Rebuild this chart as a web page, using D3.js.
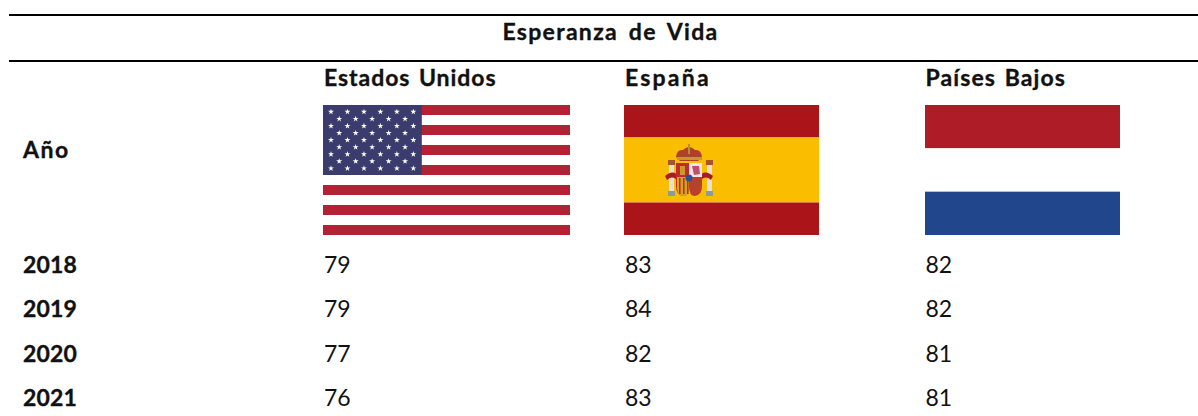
<!DOCTYPE html>
<html><head><meta charset="utf-8">
<script src="https://cdn.jsdelivr.net/npm/d3@7"></script>
<style>html,body{margin:0;background:#fff}svg{display:block}text{font-family:"Lato",sans-serif;fill:#111}text.b{stroke:#111;stroke-width:.35}</style>
</head><body><div id="c"></div>
<script>
const title = "Esperanza de Vida";
const rowHeader = "Año";
const countries = ["Estados Unidos", "España", "Países Bajos"];
const years = ["2018", "2019", "2020", "2021"];
const usa = [79, 79, 77, 76];
const spain = [83, 84, 82, 83];
const netherlands = [82, 82, 81, 81];
const seriesValues = [usa, spain, netherlands];

const W = 1198, H = 416;
const svg = d3.select("#c").append("svg").attr("width", W).attr("height", H);
const x = d3.scaleOrdinal().domain(countries).range([324, 625, 925.5]);
const track = d3.scaleOrdinal().domain(countries).range([.95, 2.2, 1.1]);
const y = d3.scalePoint().domain(years).range([273, 406]);

[15, 61].forEach(v => svg.append("rect").attr("x", 9).attr("y", v - 1).attr("width", W - 9).attr("height", 2).attr("fill", "#000"));

svg.append("text").attr("class", "b").text(title).attr("x", 610.5).attr("y", 39.5).attr("text-anchor", "middle")
  .attr("font-weight", 700).attr("font-size", 23).attr("letter-spacing", 1.3).attr("word-spacing", 4);
svg.append("text").attr("class", "b").text(rowHeader).attr("x", 23).attr("y", 158).attr("font-weight", 700).attr("font-size", 23).attr("letter-spacing", 1.5);
svg.selectAll(".h").data(countries).join("text").attr("class", "h b").text(d => d)
  .attr("x", d => x(d)).attr("y", 86).attr("font-weight", 700).attr("font-size", 23).attr("letter-spacing", d => track(d)).attr("word-spacing", 2);
svg.selectAll(".y").data(years).join("text").attr("class", "y b").text(d => d)
  .attr("x", 23).attr("y", d => y(d)).attr("font-weight", 700).attr("font-size", 23).attr("letter-spacing", .2);
countries.forEach((c, i) => {
  svg.selectAll(".v" + i).data(seriesValues[i]).join("text").attr("class", "v" + i).text(d => d)
    .attr("x", x(c)).attr("y", (d, j) => y(years[j])).attr("font-size", 23).attr("font-weight", 400).attr("fill", "#222");
});

// Flags
const flagTop = 105, flagBottom = 235;
const fy = d3.scaleLinear().domain([0, 1]).range([flagTop, flagBottom]);
// USA
const ux = d3.scaleLinear().domain([0, 1]).range([323, 570]);
const u = svg.append("g");
d3.range(13).forEach(i => u.append("rect").attr("x", ux(0)).attr("width", ux(1) - ux(0))
  .attr("y", fy(i / 13)).attr("height", fy(1 / 13) - fy(0)).attr("fill", i % 2 ? "#fff" : "#b22234"));
u.append("rect").attr("x", ux(0)).attr("y", fy(0)).attr("width", ux(.4)-ux(0)).attr("height", fy(7/13)-fy(0)).attr("fill", "#3c3b6e");
const star = d3.symbol().type(d3.symbolStar).size(11);
d3.range(9).forEach(r => {
  const n = r % 2 ? 5 : 6;
  d3.range(n).forEach(k => u.append("path").attr("d", star)
    .attr("transform", `translate(${331 + (r % 2 ? 8.2 : 0) + k * 16.47},${111.8 + r * 7.07})`).attr("fill", "#fff"));
});
// Spain
const sx = d3.scaleLinear().domain([0, 1]).range([624, 819]);
const s = svg.append("g");
[[0, .25, "#ab1519"], [.25, .75, "#fabd00"], [.75, 1, "#ab1519"]].forEach(b =>
  s.append("rect").attr("x", sx(0)).attr("width", sx(1)-sx(0)).attr("y", fy(b[0])).attr("height", fy(b[1])-fy(b[0])).attr("fill", b[2]));
// coat of arms
const a = s.append("g").attr("transform", "translate(650,130)");
const R = (X, Y, w, h, f) => a.append("rect").attr("x", X).attr("y", Y).attr("width", w).attr("height", h).attr("fill", f);
[20, 58].forEach(X => {
  R(X - 2, 30, 7, 5, "#a8552e"); R(X - 1, 35, 5, 26, "#e4e0d8"); R(X - 2, 61, 7, 5, "#8c9a9c");
});
a.append("path").attr("d", "M15 46 Q24 38 30 48 L30 52 Q22 44 17 50Z").attr("fill", "#a81c22");
a.append("path").attr("d", "M63 46 Q54 38 48 48 L48 52 Q56 44 61 50Z").attr("fill", "#a81c22");
a.append("path").attr("d", "M26 27 Q27 19 33 20 Q39 14 45 20 Q51 19 52 27 L48 31 H30Z").attr("fill", "#b0402a");
a.append("rect").attr("x", 38).attr("y", 14).attr("width", 2).attr("height", 10).attr("fill", "#b9902e");
R(27, 27, 25, 3, "#c9962c");
a.append("path").attr("d", "M26 33 H39 V56 Q39 66 33 66 Q26 65 26 56Z").attr("fill", "#c22b2b");
a.append("path").attr("d", "M39 33 H52 V47 H39Z").attr("fill", "#efe4e4");
a.append("path").attr("d", "M39 47 H52 V56 Q52 65 45 66 Q39 66 39 56Z").attr("fill", "#b8402c");
a.append("path").attr("d", "M27 47 H39 V60 Q39 66 33 66 Q27 65 27 58Z").attr("fill", "#d8a21e");
[29, 33, 37].forEach(X => R(X, 48, 1.5, 16, "#b52a2a"));
R(30, 36, 5, 9, "#c99a2a");
a.append("path").attr("d", "M42 36 L49 36 L50 44 L44 45Z").attr("fill", "#c0506a");
a.append("circle").attr("cx", 39).attr("cy", 48).attr("r", 3.5).attr("fill", "#2b4f93");
// Netherlands
const nx = d3.scaleLinear().domain([0, 1]).range([925, 1120]);
const n = svg.append("g");
["#ae1c28", "#fff", "#21468b"].forEach((f, i) =>
  n.append("rect").attr("x", nx(0)).attr("width", nx(1)-nx(0)).attr("y", fy(i / 3)).attr("height", fy(1 / 3)-fy(0)).attr("fill", f));
</script></body></html>
